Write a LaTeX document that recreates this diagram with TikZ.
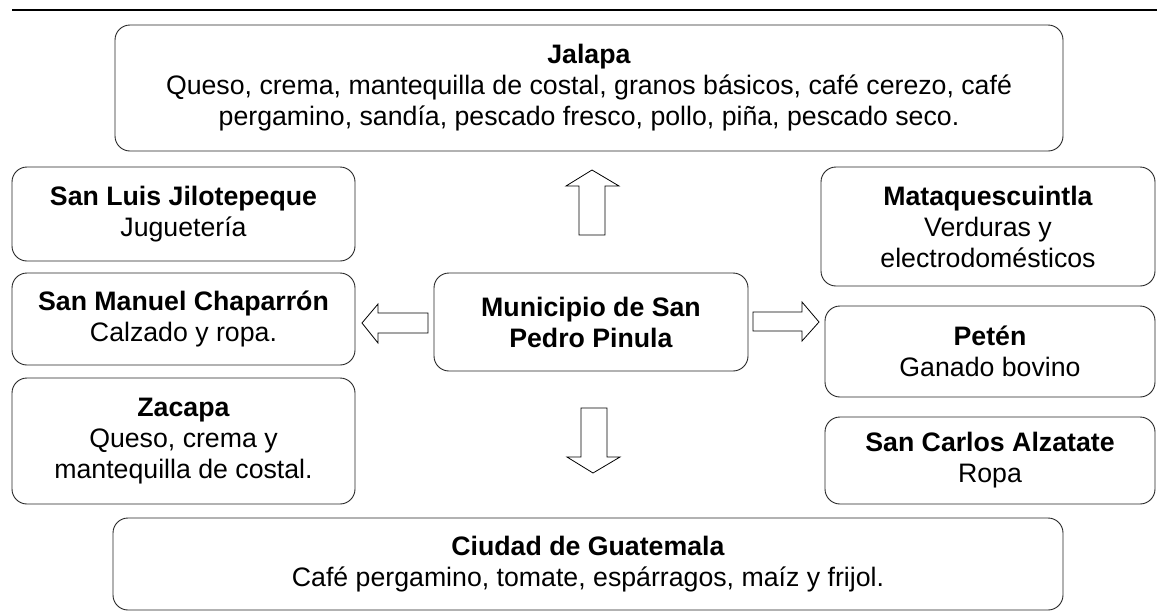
\documentclass[tikz,border=0pt]{standalone}
\usepackage{fontspec}
\setmainfont{Liberation Sans}
\begin{document}
\begin{tikzpicture}[x=1pt,y=-1pt,
  box/.style={draw=black!85,line width=0.9pt,rounded corners=15pt,align=center,
    inner sep=0pt,font=\fontsize{26.7}{31}\selectfont},
  barrow/.style={draw=black,line width=0.8pt,fill=white,line join=miter}]
\useasboundingbox (0,0) rectangle (1157,611);
\draw[line width=2pt] (12,10) -- (1157,10);
\node[box,minimum width=948pt,minimum height=126pt] (jalapa) at (589,88)
  {\textbf{Jalapa}\\Queso, crema, mantequilla de costal, granos básicos, café cerezo, café\\pergamino, sandía, pescado fresco, pollo, piña, pescado seco.};
\node[box,minimum width=343pt,minimum height=94pt] (sanluis) at (183.5,214)
  {\textbf{San Luis Jilotepeque}\\Juguetería};
\node[box,minimum width=343pt,minimum height=92pt] (sanmanuel) at (183.5,319)
  {\textbf{San Manuel Chaparrón}\\Calzado y ropa.};
\node[box,minimum width=343pt,minimum height=126pt] (zacapa) at (183.5,441)
  {\textbf{Zacapa}\\Queso, crema y\\mantequilla de costal.};
\node[box,minimum width=314pt,minimum height=98pt] (center) at (591,322)
  {\textbf{Municipio de San}\\\textbf{Pedro Pinula}};
\node[box,minimum width=334pt,minimum height=119pt] (mataq) at (988,226.5)
  {\textbf{Mataquescuintla}\\Verduras y\\electrodomésticos};
\node[box,minimum width=330pt,minimum height=91pt] (peten) at (990,351.5)
  {\textbf{Petén}\\Ganado bovino};
\node[box,minimum width=330pt,minimum height=87pt] (sancarlos) at (990,460.5)
  {\textbf{San Carlos Alzatate}\\Ropa};
\node[box,minimum width=950pt,minimum height=92pt] (ciudad) at (588,564)
  {\textbf{Ciudad de Guatemala}\\Café pergamino, tomate, espárragos, maíz y frijol.};
% block arrows
\draw[barrow] (592,170) -- (619,186) -- (605,186) -- (605,235) -- (579,235) -- (579,186) -- (566,186) -- cycle;
\draw[barrow] (593,473) -- (620,457) -- (607,457) -- (607,408) -- (581,408) -- (581,457) -- (567,457) -- cycle;
\draw[barrow] (362,323) -- (378,304) -- (378,313) -- (428,313) -- (428,333) -- (378,333) -- (378,343) -- cycle;
\draw[barrow] (819,322) -- (802,302) -- (802,312) -- (753,312) -- (753,331) -- (802,331) -- (802,341) -- cycle;
\end{tikzpicture}
\end{document}
